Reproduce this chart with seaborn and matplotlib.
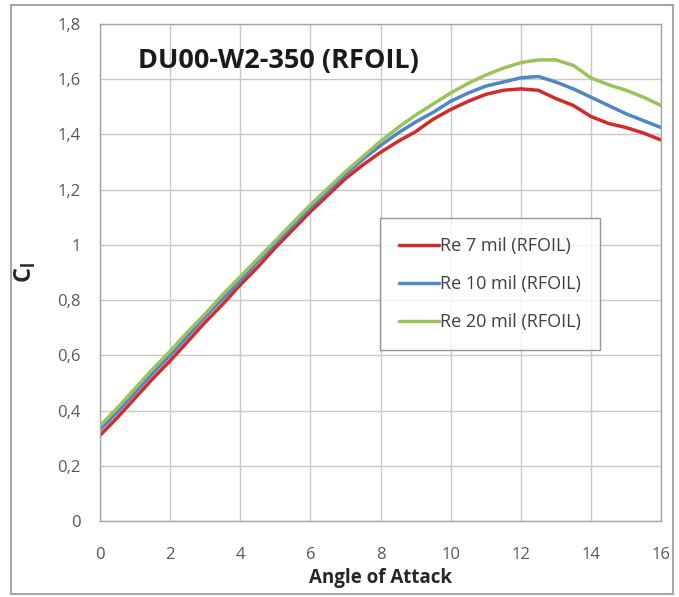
import numpy as np
import pandas as pd
import matplotlib
matplotlib.use("Agg")
import matplotlib.pyplot as plt
import seaborn as sns
from matplotlib.patches import Rectangle

alpha = [0, 0.5, 1, 1.5, 2, 2.5, 3, 3.5, 4, 4.5, 5, 5.5, 6, 6.5, 7, 7.5, 8,
         8.5, 9, 9.5, 10, 10.5, 11, 11.5, 12, 12.5, 13, 13.5, 14, 14.5, 15, 15.5, 16]
cl_re7 = [0.31, 0.375, 0.445, 0.515, 0.58, 0.65, 0.72, 0.785, 0.855, 0.92, 0.99, 1.055,
          1.12, 1.18, 1.24, 1.29, 1.335, 1.375, 1.41, 1.455, 1.49, 1.52, 1.545, 1.56,
          1.565, 1.56, 1.53, 1.505, 1.465, 1.44, 1.425, 1.405, 1.38]
cl_re10 = [0.33, 0.395, 0.465, 0.535, 0.60, 0.67, 0.74, 0.805, 0.87, 0.94, 1.005, 1.07,
           1.135, 1.195, 1.255, 1.31, 1.36, 1.405, 1.445, 1.48, 1.52, 1.55, 1.575, 1.59,
           1.605, 1.61, 1.59, 1.565, 1.535, 1.505, 1.475, 1.45, 1.425]
cl_re20 = [0.345, 0.41, 0.48, 0.55, 0.615, 0.685, 0.75, 0.82, 0.885, 0.95, 1.015, 1.08,
           1.145, 1.205, 1.265, 1.32, 1.375, 1.425, 1.47, 1.51, 1.55, 1.585, 1.615, 1.64,
           1.66, 1.67, 1.67, 1.65, 1.605, 1.58, 1.56, 1.535, 1.505]
series_names = ["Re 7 mil (RFOIL)", "Re 10 mil (RFOIL)", "Re 20 mil (RFOIL)"]
colors = ["#d42a2a", "#4f86c6", "#9bc35a"]
x_ticks = [0, 2, 4, 6, 8, 10, 12, 14, 16]
y_ticks = [0, 0.2, 0.4, 0.6, 0.8, 1.0, 1.2, 1.4, 1.6, 1.8]
y_tick_labels = ["0", "0,2", "0,4", "0,6", "0,8", "1", "1,2", "1,4", "1,6", "1,8"]

df = pd.concat([
    pd.DataFrame({"alpha": alpha, "cl": vals, "series": name})
    for name, vals in zip(series_names, [cl_re7, cl_re10, cl_re20])
])

sns.set_theme(style="white")
plt.rcParams["font.family"] = ["Open Sans", "DejaVu Sans"]

fig = plt.figure(figsize=(6.79, 5.97), dpi=100)
ax = fig.add_axes([100/679, 1-521/597, 561/679, 497/597])

sns.lineplot(data=df, x="alpha", y="cl", hue="series", palette=colors,
             hue_order=series_names, linewidth=2.5, ax=ax)

ax.set_xlim(0, 16)
ax.set_ylim(0, 1.8)
ax.set_xticks(x_ticks)
ax.set_xticklabels([str(t) for t in x_ticks])
ax.set_yticks(y_ticks)
ax.set_yticklabels(y_tick_labels)
ax.grid(True, color="#c8c8c8", linewidth=1.0)
ax.set_axisbelow(True)
for s in ax.spines.values():
    s.set_color("#a6a6a6")
    s.set_linewidth(1.0)
ax.tick_params(axis="both", colors="#595959", labelsize=12, length=5,
               width=1.0, direction="out")
ax.tick_params(axis="x", pad=14)
ax.tick_params(axis="y", pad=9)
ax.tick_params(axis="both", color="#bfbfbf")

ax.set_xlabel("Angle of Attack", fontsize=13.5, fontweight="bold", color="#262626", labelpad=3)
ax.set_ylabel(r"C$_\mathregular{l}$", fontsize=17, fontweight="bold", color="#262626", labelpad=14)

ax.text(0.068, 0.925, "DU00-W2-350 (RFOIL)", transform=ax.transAxes,
        fontsize=19.5, fontweight="bold", color="#1a1a1a", va="center", ha="left")

leg = ax.legend(loc="upper left", bbox_to_anchor=((380-100)/561, (521-218)/497),
                frameon=True, fancybox=False, fontsize=13, labelspacing=1.12,
                handlelength=2.2, handletextpad=0.1, borderpad=1.05, borderaxespad=0)
leg.get_frame().set_edgecolor("#7f7f7f")
leg.get_frame().set_linewidth(1.0)
for t in leg.get_texts():
    t.set_color("#404040")

fig.patches.append(Rectangle((11/679, 1-594/597), 662/679, 589/597,
                             transform=fig.transFigure, fill=False,
                             edgecolor="#a6a6a6", linewidth=1.5))

fig.savefig("out.png", dpi=100)
